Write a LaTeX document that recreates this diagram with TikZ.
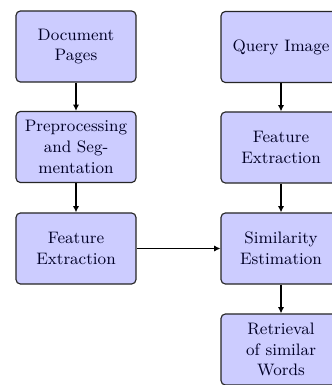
\documentclass[tikz,border=0pt]{standalone}
\usetikzlibrary{arrows.meta}
\begin{document}
\begin{tikzpicture}[x=0.56pt,y=-0.56pt,
  procbox/.style={draw=black!85, line width=0.65pt, fill=blue!20, rounded corners=2.5pt,
    minimum width=67.2pt, minimum height=39.8pt, inner sep=1pt, align=center,
    font=\fontsize{9.3}{11.6}\selectfont, text=black!85!blue},
  flow/.style={line width=0.8pt, -{Latex[length=3.5pt,width=3.5pt]}}]
\useasboundingbox (0,0) rectangle (332,385);
\clip (0,0) rectangle (332,385);
\fill[white] (0,0) rectangle (332,385);
% left column: document side
\node[procbox] (dp)  at (76,46.5)  {Document\\Pages};
\node[procbox] (pre) at (76,147)   {Preprocessing\\and Seg-\\mentation};
\node[procbox] (fel) at (76,248.5) {Feature\\Extraction};
% right column: query side
\node[procbox] (qi)  at (281,47)    {Query Image};
\node[procbox] (fer) at (281,147.5) {Feature\\Extraction};
\node[procbox] (sim) at (281,248.5) {Similarity\\Estimation};
\node[procbox] (ret) at (281,349.5) {Retrieval\\of similar\\Words};
% connectors
\draw[flow] (dp) -- (pre);
\draw[flow] (pre) -- (fel);
\draw[flow] (qi) -- (fer);
\draw[flow] (fer) -- (sim);
\draw[flow] (sim) -- (ret);
\draw[flow] (fel) -- (sim);
\end{tikzpicture}
\end{document}
